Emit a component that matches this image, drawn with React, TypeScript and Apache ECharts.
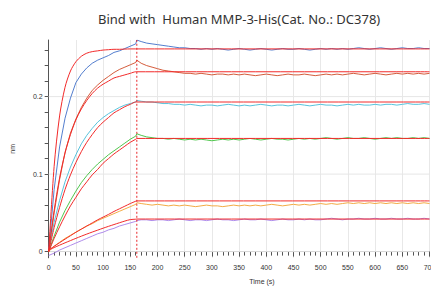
import React, { useEffect, useRef } from "react";
import * as echarts from "echarts";

const titleText = "Bind with  Human MMP-3-His(Cat. No.: DC378)";
const dissocStart = 162;

const dataTimes = [
  0, 10, 20, 30, 40, 50, 60, 70, 80, 90, 100, 110, 120, 130, 140, 150, 160, 162,
  170, 180, 190, 200, 210, 220, 230, 240, 250, 260, 270, 280, 290, 300, 310, 320, 330, 340, 350,
  360, 370, 380, 390, 400, 410, 420, 430, 440, 450, 460, 470, 480, 490, 500, 510, 520, 530,
  540, 550, 560, 570, 580, 590, 600, 610, 620, 630, 640, 650, 660, 670, 680, 690, 700,
];

const blueData = [
  0.002, 0.08, 0.135, 0.172, 0.198, 0.218, 0.229, 0.237, 0.243, 0.247, 0.25, 0.253, 0.257, 0.259, 0.262, 0.265, 0.268, 0.273,
  0.271, 0.269, 0.268, 0.267, 0.266, 0.265, 0.264, 0.263, 0.263, 0.262, 0.262, 0.261, 0.262, 0.261, 0.262, 0.261, 0.26, 0.261, 0.262,
  0.261, 0.26, 0.261, 0.262, 0.261, 0.26, 0.261, 0.262, 0.261, 0.261, 0.262, 0.261, 0.26, 0.261, 0.262, 0.261, 0.262, 0.261,
  0.262, 0.261, 0.262, 0.263, 0.262, 0.261, 0.262, 0.263, 0.262, 0.261, 0.262, 0.263, 0.262, 0.262, 0.263, 0.262, 0.262,
];
const brownData = [
  0.0, 0.05, 0.093, 0.128, 0.153, 0.171, 0.186, 0.198, 0.208, 0.215, 0.221, 0.226, 0.231, 0.235, 0.238, 0.241, 0.244, 0.247,
  0.243, 0.24, 0.238, 0.236, 0.234, 0.233, 0.232, 0.231, 0.23, 0.23, 0.229, 0.23, 0.229, 0.228, 0.229, 0.229, 0.228, 0.229, 0.228,
  0.229, 0.228, 0.227, 0.228, 0.229, 0.228, 0.227, 0.228, 0.229, 0.228, 0.228, 0.229, 0.228, 0.227, 0.228, 0.229, 0.228, 0.229,
  0.228, 0.229, 0.23, 0.229, 0.228, 0.229, 0.23, 0.229, 0.228, 0.229, 0.23, 0.229, 0.23, 0.229, 0.23, 0.229, 0.23,
];
const cyanData = [
  0.002, 0.038, 0.066, 0.09, 0.109, 0.125, 0.139, 0.15, 0.159, 0.167, 0.173, 0.178, 0.182, 0.186, 0.189, 0.191, 0.193, 0.195,
  0.194, 0.193, 0.193, 0.192, 0.191, 0.191, 0.19, 0.19, 0.189, 0.19, 0.189, 0.188, 0.189, 0.189, 0.188, 0.189, 0.19, 0.189, 0.188,
  0.189, 0.188, 0.189, 0.19, 0.189, 0.188, 0.189, 0.189, 0.188, 0.189, 0.19, 0.189, 0.188, 0.189, 0.19, 0.189, 0.189, 0.188,
  0.189, 0.19, 0.189, 0.19, 0.189, 0.189, 0.19, 0.189, 0.19, 0.19, 0.189, 0.19, 0.191, 0.19, 0.19, 0.191, 0.19,
];
const greenData = [
  0.0, 0.02, 0.038, 0.053, 0.066, 0.078, 0.089, 0.098, 0.106, 0.113, 0.119, 0.125, 0.13, 0.135, 0.14, 0.145, 0.149, 0.152,
  0.15, 0.148, 0.147, 0.146, 0.146, 0.145, 0.146, 0.145, 0.144, 0.145, 0.144, 0.145, 0.144, 0.143, 0.144, 0.145, 0.144, 0.145, 0.144,
  0.145, 0.146, 0.145, 0.144, 0.145, 0.146, 0.145, 0.145, 0.144, 0.145, 0.146, 0.145, 0.146, 0.145, 0.146, 0.147, 0.146, 0.145,
  0.146, 0.147, 0.146, 0.146, 0.147, 0.146, 0.145, 0.146, 0.147, 0.146, 0.147, 0.146, 0.146, 0.147, 0.146, 0.147, 0.146,
];
const orangeData = [
  0.0, 0.007, 0.012, 0.017, 0.021, 0.025, 0.029, 0.033, 0.036, 0.04, 0.043, 0.046, 0.049, 0.052, 0.055, 0.058, 0.061, 0.063,
  0.062, 0.061, 0.06, 0.061, 0.06, 0.059, 0.06, 0.059, 0.06, 0.059, 0.058, 0.059, 0.06, 0.059, 0.059, 0.058, 0.059, 0.06, 0.059,
  0.06, 0.059, 0.06, 0.059, 0.06, 0.061, 0.06, 0.059, 0.06, 0.061, 0.06, 0.061, 0.06, 0.061, 0.062, 0.061, 0.062, 0.061,
  0.062, 0.063, 0.062, 0.063, 0.062, 0.063, 0.062, 0.063, 0.062, 0.063, 0.062, 0.063, 0.062, 0.063, 0.062, 0.063, 0.062,
];
const purpleData = [
  -0.005, -0.002, 0.002, 0.005, 0.008, 0.011, 0.014, 0.017, 0.02, 0.023, 0.025, 0.028, 0.03, 0.033, 0.035, 0.037, 0.039, 0.04,
  0.041, 0.041, 0.04, 0.041, 0.041, 0.04, 0.041, 0.042, 0.041, 0.04, 0.041, 0.041, 0.04, 0.041, 0.042, 0.041, 0.041, 0.04, 0.041,
  0.042, 0.041, 0.041, 0.042, 0.041, 0.04, 0.041, 0.042, 0.041, 0.041, 0.042, 0.041, 0.042, 0.041, 0.041, 0.042, 0.043, 0.042,
  0.041, 0.042, 0.042, 0.043, 0.042, 0.042, 0.043, 0.042, 0.042, 0.043, 0.042, 0.042, 0.043, 0.042, 0.042, 0.043, 0.042,
];

const fitTimes = [0, 10, 20, 30, 40, 50, 60, 70, 80, 90, 100, 110, 120, 130, 140, 150, 160, 162, 700];
const blueFit = [0, 0.11, 0.175, 0.212, 0.233, 0.245, 0.252, 0.256, 0.258, 0.259, 0.26, 0.2605, 0.261, 0.261, 0.2613, 0.2615, 0.2615, 0.2615, 0.2615];
const brownFit = [0, 0.053, 0.095, 0.127, 0.151, 0.17, 0.184, 0.195, 0.204, 0.211, 0.216, 0.22, 0.224, 0.226, 0.228, 0.23, 0.232, 0.232, 0.232];
const cyanFit = [0, 0.031, 0.057, 0.08, 0.099, 0.115, 0.129, 0.141, 0.151, 0.16, 0.167, 0.173, 0.179, 0.183, 0.187, 0.19, 0.193, 0.193, 0.193];
const greenFit = [0, 0.017, 0.032, 0.046, 0.059, 0.07, 0.081, 0.09, 0.099, 0.106, 0.114, 0.12, 0.126, 0.131, 0.136, 0.141, 0.145, 0.146, 0.146];
const orangeFit = [0.002, 0.0068, 0.0115, 0.016, 0.0205, 0.025, 0.029, 0.033, 0.037, 0.041, 0.0445, 0.048, 0.0518, 0.0552, 0.0586, 0.062, 0.065, 0.0654, 0.0654];
const purpleFit = [0.002, 0.0052, 0.0083, 0.0113, 0.0142, 0.0171, 0.0199, 0.0226, 0.0252, 0.0277, 0.0302, 0.0326, 0.0349, 0.0372, 0.0394, 0.0413, 0.0418, 0.042, 0.042];

const yTickValues = [0, 0.02, 0.04, 0.06, 0.08, 0.1, 0.12, 0.14, 0.16, 0.18, 0.2, 0.22, 0.24, 0.26];
const yLabelValues = [0, 0.1, 0.2];
const yMin = -0.008;
const yMax = 0.273;

const dataSeries = [
  { name: "blue", color: "#3f6fc8", values: blueData },
  { name: "brown", color: "#cf4a26", values: brownData },
  { name: "cyan", color: "#45bcd8", values: cyanData },
  { name: "green", color: "#3cbf3a", values: greenData },
  { name: "orange", color: "#f2a230", values: orangeData },
  { name: "purple", color: "#a67ee8", values: purpleData },
];
const fitSeries = [blueFit, brownFit, cyanFit, greenFit, orangeFit, purpleFit];
const fitColor = "#f22a2a";

export default function App() {
  const ref = useRef<HTMLDivElement>(null);
  useEffect(() => {
    if (!ref.current) return;
    const chart = echarts.init(ref.current, undefined, { renderer: "svg" });
    const font = "'Liberation Sans', Arial, sans-serif";
    const series: any[] = [];
    // horizontal grid lines
    yLabelValues.forEach((v, k) => {
      series.push({
        type: "line",
        name: "hgrid" + k,
        data: [[0, v], [700, v]],
        showSymbol: false,
        silent: true,
        lineStyle: { color: "#e6e6e6", width: 1 },
        z: 1,
      });
    });
    dataSeries.forEach((s) => {
      series.push({
        type: "line",
        name: s.name,
        data: dataTimes.map((t, i) => [t, s.values[i]]),
        showSymbol: false,
        lineStyle: { color: s.color, width: 0.9 },
        itemStyle: { color: s.color },
        silent: true,
        z: 2,
      });
    });
    fitSeries.forEach((vals, k) => {
      series.push({
        type: "line",
        name: "fit" + k,
        data: fitTimes.map((t, i) => [t, vals[i]]),
        showSymbol: false,
        smooth: 0.3,
        lineStyle: { color: fitColor, width: 1 },
        itemStyle: { color: fitColor },
        silent: true,
        z: 3,
      });
    });
    series.push({
      type: "line",
      name: "dissociation",
      data: [[dissocStart, yMin], [dissocStart, yMax]],
      showSymbol: false,
      silent: true,
      lineStyle: { color: "#e8262a", width: 1, type: [2, 2] },
      itemStyle: { color: "#e8262a" },
      z: 4,
    });
    chart.setOption({
      animation: false,
      backgroundColor: "#ffffff",
      title: {
        text: titleText,
        left: 93,
        top: 7,
        textStyle: { fontSize: 13, fontWeight: "normal", color: "#333", fontFamily: "'Noto Sans', sans-serif" },
      },
      grid: { left: 48.7, right: 1.5, top: 40, bottom: 28.2, containLabel: false, outerBoundsMode: "none" },
      xAxis: {
        type: "value",
        min: 0,
        max: 700,
        interval: 50,
        axisLine: { show: true, lineStyle: { color: "#555", width: 1 } },
        axisTick: { show: true, length: 5, lineStyle: { color: "#555" } },
        minorTick: { show: true, splitNumber: 5, length: 4, lineStyle: { color: "#555" } },
        splitLine: { show: true, lineStyle: { color: "#e8e8e8", width: 1 } },
        axisLabel: { fontSize: 7, color: "#333", margin: 6, fontFamily: font, hideOverlap: false },
      },
      yAxis: {
        type: "value",
        min: yMin,
        max: yMax,
        name: "nm",
        nameLocation: "middle",
        nameGap: 33,
        nameTextStyle: { fontSize: 7, color: "#333", fontFamily: font },
        axisLine: { show: true, lineStyle: { color: "#555", width: 1 } },
        axisTick: { show: true, length: 4, customValues: yTickValues, lineStyle: { color: "#555" } },
        splitLine: { show: false },
        axisLabel: {
          fontSize: 7,
          color: "#333",
          margin: 6,
          fontFamily: font,
          customValues: yLabelValues,
          formatter: (v: number) => (Math.abs(v) < 1e-9 ? "0" : String(Math.round(v * 10) / 10)),
        },
      },
      graphic: [
        {
          type: "text",
          x: 262,
          y: 281,
          style: { text: "Time (s)", fill: "#333", font: "7px 'Liberation Sans', Arial, sans-serif", align: "center", verticalAlign: "middle" },
        },
      ],
      series,
    });
    return () => chart.dispose();
  }, []);
  return <div ref={ref} style={{ position: "fixed", left: 0, top: 0, width: 431, height: 286 }} />;
}
